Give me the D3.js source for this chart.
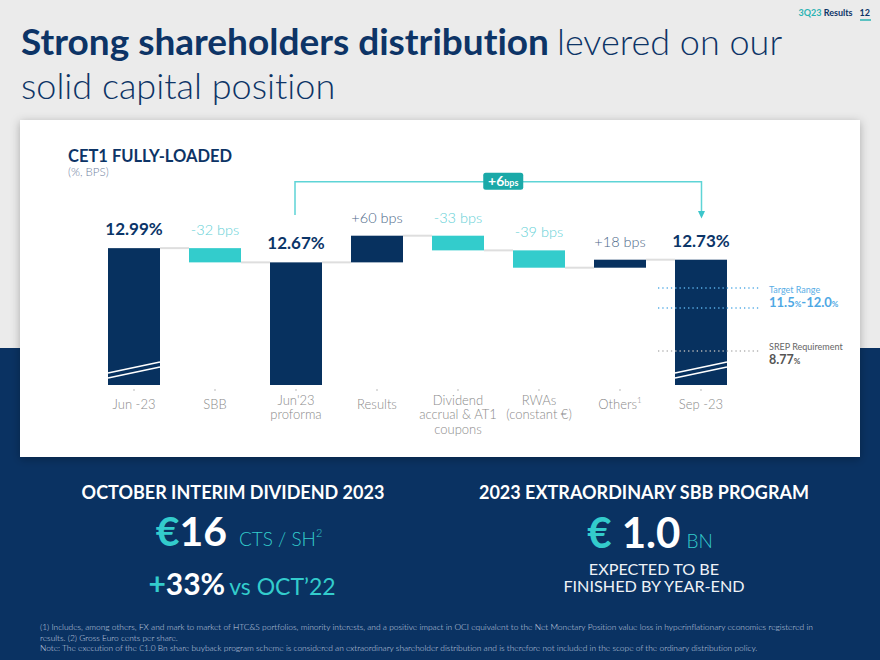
<!DOCTYPE html>
<html>
<head>
<meta charset="utf-8">
<script src="https://cdn.jsdelivr.net/npm/d3@7"></script>
<style>
  html, body { margin: 0; padding: 0; background: #ebebeb; }
  svg { display: block; font-family: Lato, "Noto Sans", sans-serif; font-variant-ligatures: none; }
  .light { font-family: "Lato Light", Lato, sans-serif; font-weight: 300; }
</style>
</head>
<body>
<svg id="chart" width="880" height="660"></svg>
<script>
// ---------------- DATA ----------------
const categories = [
  ["Jun -23"],
  ["SBB"],
  ["Jun'23", "proforma"],
  ["Results"],
  ["Dividend", "accrual & AT1", "coupons"],
  ["RWAs", "(constant €)"],
  ["Others"],
  ["Sep -23"]
];
const categorySup = ["", "", "", "", "", "", "1", ""];
const kinds = ["total", "delta", "total", "delta", "delta", "delta", "delta", "total"];
const values = [12.99, -0.32, 12.67, 0.60, -0.33, -0.39, 0.18, 12.73];
const valueLabels = ["12.99%", "-32 bps", "12.67%", "+60 bps", "-33 bps", "-39 bps", "+18 bps", "12.73%"];
const refValues = [12.0, 11.5, 8.77];
const refKinds = ["target", "target", "srep"];
const breakBars = ["Jun -23", "Sep -23"];
const changeLabel = ["+6", "bps"];
const changeTo = "Sep -23";

// ---------------- COLORS ----------------
const NAVY = "#07315f";
const TEAL = "#33cccc";
const TITLE = "#0d3466";

const svg = d3.select("#chart");

// background
svg.append("rect").attr("x", 0).attr("y", 0).attr("width", 880).attr("height", 660).attr("fill", "#ebebeb");
svg.append("rect").attr("x", 0).attr("y", 348).attr("width", 880).attr("height", 312).attr("fill", "#0a3262");

// shadow filter
const defs = svg.append("defs");
const f = defs.append("filter").attr("id", "shadow").attr("x", "-10%").attr("y", "-10%").attr("width", "120%").attr("height", "130%");
f.append("feDropShadow").attr("dx", 0).attr("dy", 2).attr("stdDeviation", 5).attr("flood-color", "#000").attr("flood-opacity", 0.28);

// card
svg.append("rect").attr("x", 20).attr("y", 120).attr("width", 840).attr("height", 337)
  .attr("fill", "#ffffff").attr("filter", "url(#shadow)");

// ---------------- HEADER ----------------
const hdr = svg.append("text").attr("x", 870).attr("y", 16).attr("text-anchor", "end")
  .attr("font-size", 9).attr("font-weight", 700);
hdr.append("tspan").attr("fill", "#2bb3b3").text("3Q23 ");
hdr.append("tspan").attr("fill", TITLE).text("Results");
hdr.append("tspan").attr("fill", TITLE).attr("dx", 7).text("12");
svg.append("line").attr("x1", 860).attr("x2", 871).attr("y1", 20).attr("y2", 20)
  .attr("stroke", "#2bb3b3").attr("stroke-width", 1.5);

const t1 = svg.append("text").attr("x", 21).attr("y", 55).attr("font-size", 36).attr("fill", TITLE);
t1.append("tspan").attr("font-weight", 700).attr("font-size", 37).text("Strong shareholders distribution");
t1.append("tspan").attr("class", "light").attr("dx", 8).text("levered on our");
svg.append("text").attr("class", "light").attr("x", 21).attr("y", 99).attr("font-size", 36)
  .attr("fill", TITLE).text("solid capital position");

svg.append("text").attr("x", 68).attr("y", 162).attr("font-size", 16.5).attr("font-weight", 700)
  .attr("fill", TITLE).text("CET1 FULLY-LOADED");
svg.append("text").attr("class", "light").attr("x", 68).attr("y", 176).attr("font-size", 11.5)
  .attr("fill", "#6f82a0").text("(%, BPS)");

// ---------------- SCALES ----------------
const names = categories.map(c => c[0]);
const x = d3.scaleBand().domain(names).range([108, 727]).paddingInner(0.358).paddingOuter(0);
// broken axis: piecewise linear scale
const y = d3.scaleLinear()
  .domain([8.0, 8.77, 11.5, 12.0, 12.55, 13.27])
  .range([385, 351, 308, 288, 267.7, 235.7]);
const base = y.range()[0];

// waterfall computation
let running = 0;
const bars = values.map((v, i) => {
  let lo, hi, end;
  if (kinds[i] === "total") { lo = null; hi = v; end = v; running = v; }
  else { const s = running; end = s + v; lo = Math.min(s, end); hi = Math.max(s, end); running = end; }
  return { name: names[i], kind: kinds[i], v, lo, hi, end, i };
});

const g = svg.append("g");

// connectors
bars.slice(0, -1).forEach((b, i) => {
  const nb = bars[i + 1];
  g.append("line")
    .attr("x1", x(b.name) + x.bandwidth()).attr("x2", x(nb.name))
    .attr("y1", y(b.end)).attr("y2", y(b.end))
    .attr("stroke", "#dedede").attr("stroke-width", 2);
});

// bars
g.selectAll("rect.bar").data(bars).enter().append("rect")
  .attr("class", "bar")
  .attr("x", d => x(d.name))
  .attr("width", x.bandwidth())
  .attr("y", d => y(d.hi))
  .attr("height", d => (d.kind === "total" ? base : y(d.lo)) - y(d.hi))
  .attr("fill", d => (d.kind === "delta" && d.v < 0) ? TEAL : NAVY);

// value labels
g.selectAll("text.val").data(bars).enter().append("text")
  .attr("class", d => d.kind === "total" ? "val" : "val light")
  .attr("x", d => x(d.name) + x.bandwidth() / 2)
  .attr("y", d => y(d.hi) - 13)
  .attr("text-anchor", "middle")
  .attr("font-size", d => d.kind === "total" ? 17 : 14.5)
  .attr("font-weight", d => d.kind === "total" ? 700 : 300)
  .attr("fill", d => d.kind === "total" ? "#0b3568" : (d.v < 0 ? "#63d0d6" : "#4d6888"))
  .text((d) => valueLabels[d.i]);

// reference lines (dotted)
const sep = x(changeTo);
refValues.forEach((r, i) => {
  g.append("line")
    .attr("x1", sep - 17).attr("x2", sep + x.bandwidth() + 32)
    .attr("y1", y(r)).attr("y2", y(r))
    .attr("stroke", refKinds[i] === "target" ? "#5aaee6" : "#b5b5b5")
    .attr("stroke-width", 1.3).attr("stroke-dasharray", "1.3,3");
});

// break marks
breakBars.forEach(n => {
  const x0 = x(n), x1 = x(n) + x.bandwidth();
  [0, 5].forEach(off => {
    g.append("line")
      .attr("x1", x0).attr("y1", base - 12 + off)
      .attr("x2", x1).attr("y2", base - 23 + off)
      .attr("stroke", "#fff").attr("stroke-width", 1.6);
  });
});

// tiny ticks
names.forEach(n => {
  g.append("line").attr("x1", x(n) + x.bandwidth() / 2).attr("x2", x(n) + x.bandwidth() / 2)
    .attr("y1", 389).attr("y2", 391).attr("stroke", "#bbbbbb").attr("stroke-width", 1);
});

// category labels
categories.forEach((lines, i) => {
  const cx = x(names[i]) + x.bandwidth() / 2;
  const y0 = lines.length === 1 ? 409 : 404.5;
  const t = g.append("text").attr("class", "light").attr("text-anchor", "middle").attr("font-size", 13)
    .attr("fill", "#8a8a8a");
  lines.forEach((l, j) => {
    t.append("tspan").attr("x", cx).attr("y", y0 + j * 14.5).text(l);
  });
  if (categorySup[i]) {
    t.append("tspan").attr("font-size", 8).attr("dy", -6).text(categorySup[i]);
  }
});

// annotation text on the right
const ax = 769;
svg.append("text").attr("x", ax).attr("y", 293).attr("font-size", 9).attr("fill", "#5aaee6").text("Target Range");
const tr = svg.append("text").attr("x", ax).attr("y", 306.5).attr("font-size", 13).attr("font-weight", 700).attr("fill", "#4ea8e4");
tr.append("tspan").text(d3.format(".1f")(refValues[1]));
tr.append("tspan").attr("font-size", 8).text("%");
tr.append("tspan").text("-" + d3.format(".1f")(refValues[0]));
tr.append("tspan").attr("font-size", 8).text("%");
svg.append("text").attr("x", ax).attr("y", 349.5).attr("font-size", 9).attr("fill", "#666").text("SREP Requirement");
const sr = svg.append("text").attr("x", ax).attr("y", 363.5).attr("font-size", 12.5).attr("font-weight", 700).attr("fill", "#555");
sr.append("tspan").text(d3.format(".2f")(refValues[2]));
sr.append("tspan").attr("font-size", 8).text("%");

// change bracket
const fromX = x(names[2]) + x.bandwidth() / 2 - 1;
const toX = x(changeTo) + x.bandwidth() / 2 + 0.5;
const bY = 181.7;
svg.append("path")
  .attr("d", `M${fromX},215 V${bY} H${toX} V212`)
  .attr("fill", "none").attr("stroke", "#5ed4d6").attr("stroke-width", 1.5);
svg.append("path")
  .attr("d", `M${toX - 3.5},211 L${toX + 3.5},211 L${toX},218.5 Z`).attr("fill", "#3cc6cb");
const bx = (fromX + toX) / 2 + 5;
svg.append("rect").attr("x", bx - 20).attr("y", bY - 9).attr("width", 40).attr("height", 17)
  .attr("rx", 2.5).attr("fill", "#1aa9a8");
const bt = svg.append("text").attr("x", bx).attr("y", bY + 4.5).attr("text-anchor", "middle")
  .attr("fill", "#fff").attr("font-weight", 700);
bt.append("tspan").attr("font-size", 14).text(changeLabel[0]);
bt.append("tspan").attr("font-size", 9).text(changeLabel[1]);

// ---------------- BOTTOM PANEL ----------------
const W = "#ffffff";
svg.append("text").attr("x", 233).attr("y", 498.5).attr("text-anchor", "middle").attr("font-size", 18)
  .attr("font-weight", 700).attr("fill", W).text("OCTOBER INTERIM DIVIDEND 2023");
svg.append("text").attr("x", 644).attr("y", 499).attr("text-anchor", "middle").attr("font-size", 18)
  .attr("font-weight", 700).attr("fill", W).text("2023 EXTRAORDINARY SBB PROGRAM");

const d1 = svg.append("text").attr("x", 239).attr("y", 546).attr("text-anchor", "middle");
d1.append("tspan").attr("font-size", 41).attr("font-weight", 700).attr("fill", TEAL).text("€");
d1.append("tspan").attr("font-size", 41).attr("font-weight", 700).attr("fill", W).text("16 ");
d1.append("tspan").attr("class", "light").attr("font-size", 19).attr("fill", TEAL).attr("dx", 2).text("CTS / SH");
d1.append("tspan").attr("class", "light").attr("font-size", 11).attr("fill", TEAL).attr("dy", -9).text("2");

const d2 = svg.append("text").attr("x", 242).attr("y", 595).attr("text-anchor", "middle");
d2.append("tspan").attr("font-size", 30).attr("font-weight", 700).attr("fill", TEAL).text("+");
d2.append("tspan").attr("font-size", 30).attr("font-weight", 700).attr("fill", W).text("33%");
d2.append("tspan").attr("font-size", 23).attr("font-weight", 400).attr("fill", TEAL).attr("dx", 4).text("vs OCT’22");

const e1 = svg.append("text").attr("x", 650).attr("y", 548).attr("text-anchor", "middle");
e1.append("tspan").attr("font-size", 42).attr("font-weight", 700).attr("fill", TEAL).text("€ ");
e1.append("tspan").attr("font-size", 42).attr("font-weight", 700).attr("fill", W).text("1.0");
e1.append("tspan").attr("class", "light").attr("font-size", 19).attr("fill", TEAL).attr("dx", 6).text("BN");

svg.append("text").attr("x", 654).attr("y", 574.5).attr("text-anchor", "middle").attr("font-size", 16.2)
  .attr("fill", "#eef2f7").text("EXPECTED TO BE");
svg.append("text").attr("x", 654).attr("y", 592).attr("text-anchor", "middle").attr("font-size", 16.2)
  .attr("fill", "#eef2f7").text("FINISHED BY YEAR-END");

const notes = [
  "(1) Includes, among others, FX and mark to market of HTC&S portfolios, minority interests, and a positive impact in OCI equivalent to the Net Monetary Position value loss in hyperinflationary economies registered in",
  "results. (2) Gross Euro cents per share.",
  "Note: The execution of the €1.0 Bn share buyback program scheme is considered an extraordinary shareholder distribution and is therefore not included in the scope of the ordinary distribution policy."
];
notes.forEach((n, i) => {
  svg.append("text").attr("class", "light").attr("x", 40).attr("y", 630 + i * 10.5).attr("font-size", 8.4)
    .attr("fill", "#c9d3e0").text(n);
});
</script>
</body>
</html>
